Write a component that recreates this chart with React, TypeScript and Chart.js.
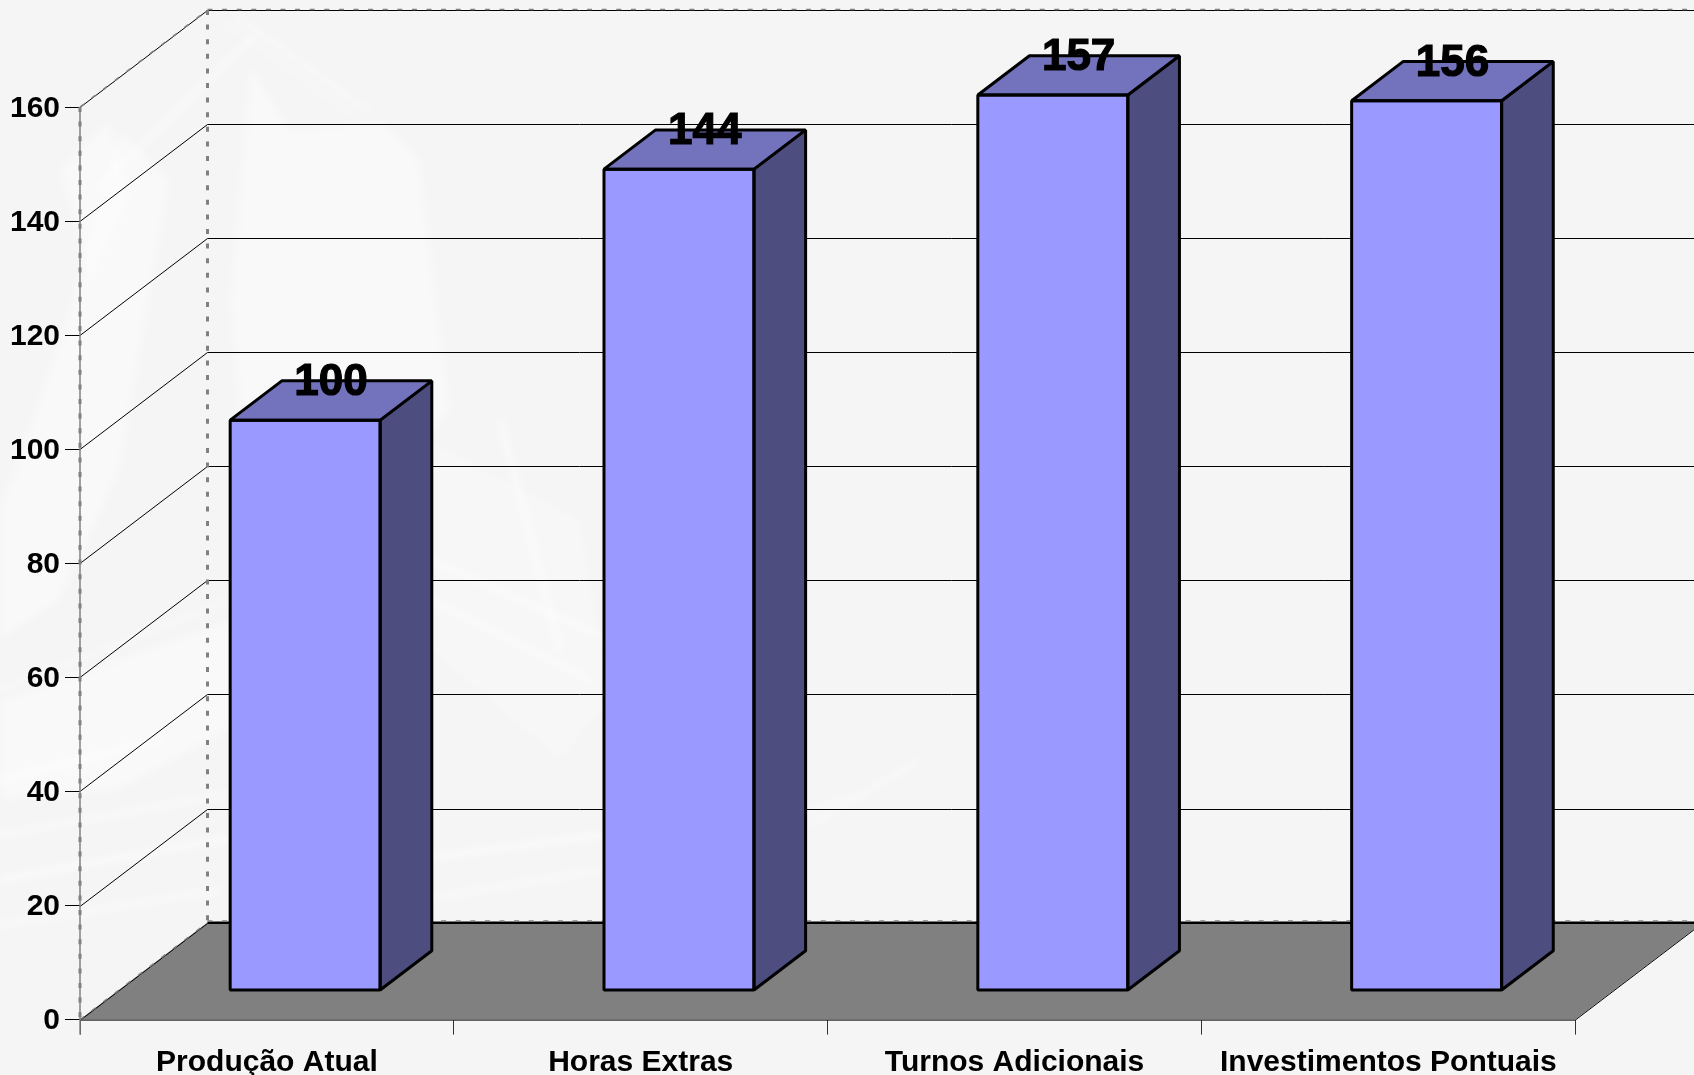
import { useEffect, useRef } from "react";
import { Chart, registerables } from "chart.js";

Chart.register(...registerables);

const categories = ["Produção Atual", "Horas Extras", "Turnos Adicionais", "Investimentos Pontuais"];
const values = [100, 144, 157, 156];
const yMax = 160;
const yStep = 20;

const FRONT = "#9999FF";
const TOP = "#7373BD";
const SIDE = "#4D4D80";
const FLOOR = "#808080";
const BG = "#F5F5F5";
const FONT = '"Liberation Sans", Arial, sans-serif';

// oblique projection of the depth axis
const WALL_DX = 127.5;
const WALL_DY = -97;
const BAR_Z0 = 0.3;
const BAR_DEPTH = 0.405;

const watermark = {
  id: "watermark",
  beforeDraw(chart: any) {
    // nudge the y tick labels down to sit where the reference has them
    chart.scales.y.getLabelItems().forEach((item: any) => {
      if (!item.__nudged) {
        item.options.translation = [item.options.translation[0], item.options.translation[1] + 1.5];
        item.__nudged = true;
      }
    });
    const ctx = chart.ctx;
    ctx.save();
    ctx.fillStyle = BG;
    ctx.fillRect(0, 0, chart.width, chart.height);
    ctx.filter = "blur(4px)";
    ctx.strokeStyle = "rgba(255,255,255,0.6)";
    ctx.fillStyle = "rgba(255,255,255,0.4)";
    ctx.lineCap = "round";
    const poly = (pts: number[][]) => {
      ctx.beginPath();
      pts.forEach((p, i) => (i ? ctx.lineTo(p[0], p[1]) : ctx.moveTo(p[0], p[1])));
      ctx.closePath();
      ctx.fill();
    };
    const line = (x0: number, y0: number, x1: number, y1: number, w: number) => {
      ctx.lineWidth = w;
      ctx.beginPath();
      ctx.moveTo(x0, y0);
      ctx.lineTo(x1, y1);
      ctx.stroke();
    };
    line(235, 15, 370, 112, 4);
    line(225, 22, 355, 116, 3);
    line(95, 190, 255, 35, 5);
    poly([[250, 65], [290, 130], [380, 120], [420, 160], [450, 410], [400, 470], [250, 560], [230, 300]]);
    poly([[0, 510], [60, 340], [120, 130], [170, 180], [120, 470], [60, 600], [0, 640]]);
    poly([[60, 170], [110, 120], [130, 200], [90, 280]]);
    ctx.fillStyle = "rgba(255,255,255,0.25)";
    poly([[430, 440], [580, 520], [610, 700], [560, 760], [420, 640]]);
    ctx.fillStyle = "rgba(255,255,255,0.4)";
    poly([[0, 700], [260, 610], [300, 690], [120, 790], [0, 800]]);
    line(0, 690, 230, 600, 4);
    line(0, 880, 300, 825, 6);
    line(0, 835, 250, 790, 5);
    line(0, 925, 220, 890, 5);
    line(0, 780, 160, 740, 7);
    line(410, 860, 640, 830, 6);
    line(420, 900, 600, 870, 5);
    line(430, 560, 610, 640, 5);
    line(430, 600, 590, 680, 5);
    line(500, 420, 560, 650, 6);
    line(810, 825, 920, 760, 4);
    line(755, 835, 850, 795, 4);
    ctx.restore();
  },
};

const chart3d = {
  id: "chart3d",
  beforeDatasetsDraw(chart: any) {
    const { ctx, scales, chartArea } = chart;
    const y = scales.y;
    const l = chartArea.left;
    const r = chartArea.right;
    const y0 = y.getPixelForValue(0);
    const yTop = y.getPixelForValue(yMax);
    ctx.save();
    // floor
    ctx.fillStyle = FLOOR;
    ctx.beginPath();
    ctx.moveTo(l, y0);
    ctx.lineTo(r, y0);
    ctx.lineTo(r + WALL_DX, y0 + WALL_DY);
    ctx.lineTo(l + WALL_DX, y0 + WALL_DY);
    ctx.closePath();
    ctx.fill();
    // grid lines on both walls
    ctx.strokeStyle = "#000000";
    ctx.lineWidth = 1;
    for (let v = 0; v <= yMax; v += yStep) {
      const p = Math.round(y.getPixelForValue(v)) + 0.5;
      ctx.beginPath();
      ctx.moveTo(l, p);
      ctx.lineTo(l + WALL_DX, p + WALL_DY);
      ctx.lineTo(chart.width + 10, p + WALL_DY);
      ctx.stroke();
    }
    ctx.beginPath();
    ctx.moveTo(l, y0 + 0.5);
    ctx.lineTo(r, y0 + 0.5);
    ctx.lineTo(r + WALL_DX, y0 + WALL_DY + 0.5);
    ctx.stroke();
    ctx.lineWidth = 2;
    ctx.beginPath();
    ctx.moveTo(l + WALL_DX, y0 + WALL_DY);
    ctx.lineTo(chart.width + 10, y0 + WALL_DY);
    ctx.stroke();
    // dashed wall edges
    ctx.strokeStyle = FLOOR;
    ctx.lineWidth = 1.5;
    ctx.beginPath();
    ctx.moveTo(l, y0 + 15);
    ctx.lineTo(l, yTop);
    ctx.stroke();
    ctx.lineWidth = 3;
    ctx.setLineDash([5, 9.6]);
    ctx.beginPath();
    ctx.moveTo(l, yTop);
    ctx.lineTo(l, y0);
    ctx.moveTo(l + WALL_DX, yTop + WALL_DY);
    ctx.lineTo(l + WALL_DX, y0 + WALL_DY);
    ctx.stroke();
    ctx.lineWidth = 1.5;
    ctx.beginPath();
    ctx.moveTo(l + WALL_DX, yTop + WALL_DY - 0.5);
    ctx.lineTo(chart.width + 10, yTop + WALL_DY - 0.5);
    ctx.moveTo(l, yTop);
    ctx.lineTo(l + WALL_DX, yTop + WALL_DY);
    ctx.moveTo(l, y0);
    ctx.lineTo(l + WALL_DX, y0 + WALL_DY);
    ctx.moveTo(l + WALL_DX, y0 + WALL_DY - 1.5);
    ctx.lineTo(chart.width + 10, y0 + WALL_DY - 1.5);
    ctx.stroke();
    ctx.restore();
    // shift the native front faces onto their place on the floor
    ctx.save();
    ctx.translate(WALL_DX * BAR_Z0, WALL_DY * BAR_Z0);
  },
  afterDatasetsDraw(chart: any) {
    const { ctx } = chart;
    const meta = chart.getDatasetMeta(0);
    const ddx = WALL_DX * BAR_DEPTH;
    const ddy = WALL_DY * BAR_DEPTH;
    ctx.lineWidth = 3;
    ctx.strokeStyle = "#000000";
    ctx.lineJoin = "bevel";
    meta.data.forEach((bar: any) => {
      const p = bar.getProps(["x", "y", "base", "width"], true);
      const x0 = p.x - p.width / 2;
      const x1 = p.x + p.width / 2;
      const face = (pts: number[][], fill: string | null) => {
        ctx.beginPath();
        pts.forEach((q, i) => (i ? ctx.lineTo(q[0], q[1]) : ctx.moveTo(q[0], q[1])));
        ctx.closePath();
        if (fill) {
          ctx.fillStyle = fill;
          ctx.fill();
        }
        ctx.stroke();
      };
      face([[x1, p.y], [x1 + ddx, p.y + ddy], [x1 + ddx, p.base + ddy], [x1, p.base]], SIDE);
      face([[x0, p.y], [x0 + ddx, p.y + ddy], [x1 + ddx, p.y + ddy], [x1, p.y]], TOP);
      face([[x0, p.y], [x1, p.y], [x1, p.base], [x0, p.base]], null);
    });
    ctx.restore();
    // value labels, at the back edge of the top faces
    ctx.save();
    ctx.fillStyle = "#000000";
    ctx.strokeStyle = "#000000";
    ctx.lineWidth = 1.2;
    ctx.font = `bold 44px ${FONT}`;
    ctx.textAlign = "center";
    ctx.textBaseline = "middle";
    meta.data.forEach((bar: any, i: number) => {
      const p = bar.getProps(["x", "y"], true);
      const tx = p.x + WALL_DX * (BAR_Z0 + BAR_DEPTH / 2);
      const ty = p.y + WALL_DY * (BAR_Z0 + BAR_DEPTH) + 2;
      ctx.fillText(String(values[i]), tx, ty);
      ctx.strokeText(String(values[i]), tx, ty);
    });
    ctx.restore();
  },
};

export default function App() {
  const ref = useRef<HTMLCanvasElement>(null);
  useEffect(() => {
    document.body.style.margin = "0";
    document.body.style.overflow = "hidden";
    const chart = new Chart(ref.current!, {
      type: "bar",
      data: {
        labels: categories,
        datasets: [
          {
            data: values,
            backgroundColor: FRONT,
            borderWidth: 0,
            barPercentage: 0.4012,
            categoryPercentage: 1,
            clip: false,
          } as any,
        ],
      },
      plugins: [watermark, chart3d],
      options: {
        animation: false,
        responsive: false,
        layout: { padding: { top: 107, right: 118.7, left: 0, bottom: 0 } },
        plugins: { legend: { display: false }, title: { display: false }, tooltip: { enabled: false } },
        scales: {
          x: {
            type: "category",
            offset: true,
            afterFit(scale: any) {
              scale.height = 55.4;
            },
            grid: {
              offset: true,
              drawOnChartArea: false,
              drawTicks: true,
              tickLength: 15,
              tickColor: "#333333",
              tickWidth: 1,
            },
            border: { display: false },
            ticks: {
              autoSkip: false,
              maxRotation: 0,
              minRotation: 0,
              color: "#000000",
              font: { family: FONT, size: 30, weight: "bold" },
              padding: 10,
            },
          },
          y: {
            type: "linear",
            min: 0,
            max: yMax,
            afterFit(scale: any) {
              scale.width = 80;
            },
            grid: {
              drawOnChartArea: false,
              drawTicks: true,
              tickLength: 15,
              tickColor: "#000000",
              tickWidth: 1,
            },
            border: { display: false },
            ticks: {
              stepSize: yStep,
              color: "#000000",
              font: { family: FONT, size: 30, weight: "bold" },
              padding: 5,
            },
          },
        },
      },
    } as any);
    return () => chart.destroy();
  }, []);
  return <canvas ref={ref} width={1694} height={1075} style={{ display: "block", width: 1694, height: 1075 }} />;
}
